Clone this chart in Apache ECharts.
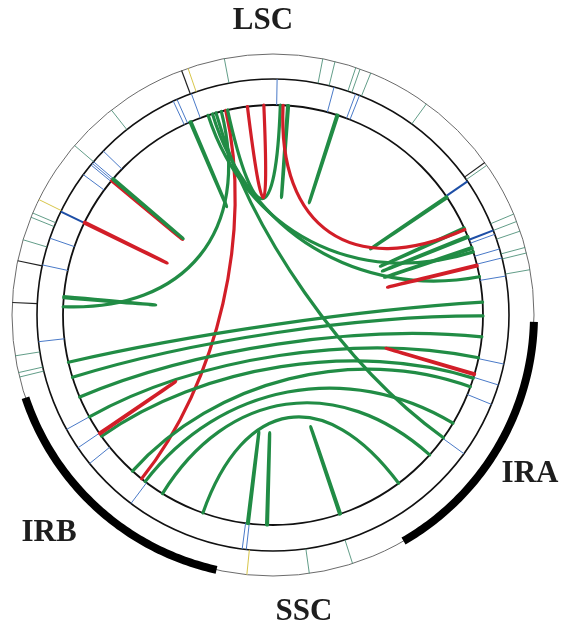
<!DOCTYPE html>
<html>
<head>
<meta charset="utf-8">
<script src="https://cdn.jsdelivr.net/npm/echarts/dist/echarts.min.js"></script>
<style>
  html, body { margin: 0; padding: 0; background: #ffffff; }
  #chart { width: 561px; height: 630px; }
</style>
</head>
<body>
<div id="chart"></div>
<script>
// Plastome map, positions in kb
const genomeLength = 144.0;
const regionNames = ['LSC', 'IRA', 'SSC', 'IRB'];
const regionStart = [0.0, 80.0, 103.4, 120.4];
const regionEnd   = [80.0, 103.4, 120.4, 144.0];
const invertedRepeats = ['IRA', 'IRB'];

// Repeat pairs (kb); F = forward, P = palindromic. Listed in drawing order.
const linkStart = [38.2, 23.3, 34.1, 23.5, 9.3, 50.5, 65.7, 69.6, 70.6, 71.9, 107.9, 116.0, 118.1,
                   8.3, 36.2, 36.7, 37.1, 38.4, 45.0, 2.2, 0.5, 142.2, 139.8, 137.3, 132.2, 130.4, 128.1, 123.2,
                   17.8, 40.6, 44.5, 73.9, 85.9, 137.6];
const linkEnd   = [130.9, 23.4, 34.2, 23.6, 9.4, 50.6, 65.8, 69.7, 70.7, 72.0, 108.0, 116.1, 118.2,
                   37.7, 72.4, 75.2, 93.7, 44.2, 45.1, 78.0, 79.5, 81.8, 84.1, 86.4, 87.4, 91.8, 96.1, 100.7,
                   17.9, 42.4, 69.8, 74.0, 86.0, 137.7];
const linkType  = ['P', 'P', 'F', 'F', 'F', 'F', 'F', 'F', 'F', 'F', 'F', 'F', 'F',
                   'F', 'F', 'F', 'F', 'F', 'F', 'F', 'F', 'F', 'F', 'F', 'F', 'F', 'F', 'F',
                   'P', 'P', 'P', 'P', 'P', 'P'];

// Outer track features (kb)
const outerTeal   = [1.9, 2.3, 3.8, 14.1, 16.2, 16.6, 23.6, 28.1, 39.1, 47.8, 48.9, 50.8, 51.2, 52.2,
                     57.8, 65.4, 70.3, 71.0, 71.9, 73.4, 73.9, 75.4, 108.3, 112.2];
const outerYellow = [17.9, 35.8, 117.7];
const outerBlack  = [8.5, 12.2, 35.2, 65.1];

// Middle track features (kb)
const middleBlue = [4.8, 12.3, 15.0, 22.0, 23.2, 23.4, 23.6, 25.0, 33.4, 33.8, 35.3, 43.8, 49.4, 51.6, 52.0,
                    71.4, 72.9, 73.8, 75.6, 84.2, 86.3, 88.3, 93.8, 118.0, 118.4, 130.2, 135.8, 137.7, 139.8];
const middleDarkBlue = [17.8, 65.6, 71.0];

// Track radii as fractions of the outer radius; R_CREST places the link control points
const R_OUT = 1.0, R_MID = 236 / 261, R_IN = 210 / 261, R_CREST = 87 / 261;
const linkColor = { F: '#218c45', P: '#d21e28' };

const chart = echarts.init(document.getElementById('chart'), null, { renderer: 'canvas' });

function tickSeries(positions, r0, r1, color, width) {
  return {
    type: 'custom', coordinateSystem: 'polar', silent: true,
    data: positions.map(p => [p]),
    renderItem(params, api) {
      const pos = api.value(0);
      const a = api.coord([r0, pos]);
      const b = api.coord([r1, pos]);
      return { type: 'line', shape: { x1: a[0], y1: a[1], x2: b[0], y2: b[1] },
               style: { stroke: color, lineWidth: width } };
    }
  };
}

const ringSeries = {
  type: 'custom', coordinateSystem: 'polar', silent: true,
  data: [[0]],
  renderItem(params, api) {
    const c = api.coord([0, 0]);
    const rad = r => { const p = api.coord([r, 0]); return Math.hypot(p[0] - c[0], p[1] - c[1]); };
    return { type: 'group', children: [
      { type: 'circle', shape: { cx: c[0], cy: c[1], r: rad(R_OUT) }, style: { fill: null, stroke: '#6b6b6b', lineWidth: 1 } },
      { type: 'circle', shape: { cx: c[0], cy: c[1], r: rad(R_MID) }, style: { fill: null, stroke: '#111', lineWidth: 1.6 } },
      { type: 'circle', shape: { cx: c[0], cy: c[1], r: rad(R_IN) }, style: { fill: null, stroke: '#111', lineWidth: 1.8 } }
    ] };
  }
};

const irSeries = {
  type: 'custom', coordinateSystem: 'polar', silent: true,
  data: invertedRepeats.map(n => { const i = regionNames.indexOf(n); return [regionStart[i], regionEnd[i]]; }),
  renderItem(params, api) {
    const s = api.value(0), e = api.value(1);
    const pts = [];
    const n = 80;
    for (let k = 0; k <= n; k++) pts.push(api.coord([R_OUT, s + (e - s) * k / n]));
    return { type: 'polyline', shape: { points: pts },
             style: { fill: null, stroke: '#000', lineWidth: 8, lineCap: 'butt' } };
  }
};

// Each link is a cubic Bezier whose control points sit on the radial lines of its two ends
const linkSeries = {
  type: 'custom', coordinateSystem: 'polar', silent: true,
  data: linkStart.map((s, i) => [s, linkEnd[i]]),
  renderItem(params, api) {
    const a = api.value(0), b = api.value(1);
    const p0 = api.coord([R_IN, a]);
    const p3 = api.coord([R_IN, b]);
    const c1 = api.coord([R_CREST, a]);
    const c2 = api.coord([R_CREST, b]);
    return { type: 'bezierCurve',
             shape: { x1: p0[0], y1: p0[1], x2: p3[0], y2: p3[1],
                      cpx1: c1[0], cpy1: c1[1], cpx2: c2[0], cpy2: c2[1] },
             style: { fill: null, stroke: linkColor[linkType[params.dataIndex]], lineWidth: 3.2, lineCap: 'round' } };
  }
};

const labelFont = 'bold 31px "Liberation Serif", "Times New Roman", serif';
function label(text, x, y) {
  return { type: 'text', x: x, y: y, silent: true,
           style: { text: text, font: labelFont, fill: '#1e1e1e', align: 'center', verticalAlign: 'middle' } };
}

chart.setOption({
  animation: false,
  backgroundColor: '#ffffff',
  polar: { center: [273, 315], radius: 261 },
  angleAxis: { type: 'value', min: 0, max: genomeLength, startAngle: 198.5, clockwise: true, show: false },
  radiusAxis: { type: 'value', min: 0, max: 1, show: false },
  series: [
    ringSeries,
    tickSeries(outerTeal, R_MID, R_OUT, 'rgba(70,140,115,0.85)', 1),
    tickSeries(outerYellow, R_MID, R_OUT, '#d8c64a', 1),
    tickSeries(outerBlack, R_MID, R_OUT, '#222', 1.2),
    tickSeries(middleBlue, R_IN, R_MID, '#4a7ac8', 1),
    tickSeries(middleDarkBlue, R_IN, R_MID, '#1d4ea6', 2),
    irSeries,
    linkSeries
  ],
  graphic: [
    label('LSC', 263, 21),
    label('IRA', 530, 474),
    label('SSC', 304, 612),
    label('IRB', 49, 533)
  ]
});
</script>
</body>
</html>
